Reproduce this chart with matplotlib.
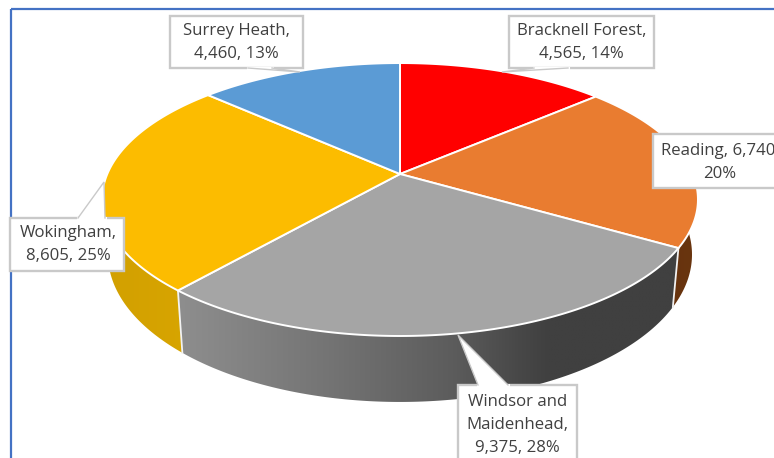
import numpy as np
import matplotlib
matplotlib.use("Agg")
import matplotlib.pyplot as plt
from matplotlib.patches import Polygon, Rectangle
from matplotlib.colors import LinearSegmentedColormap

# --- data -------------------------------------------------------------
names = ["Bracknell Forest", "Reading", "Windsor and Maidenhead", "Wokingham", "Surrey Heath"]
values = [4565, 6740, 9375, 8605, 4460]
percents = [14, 20, 28, 25, 13]
label_lines = [
    ["Bracknell Forest,", "4,565, 14%"],
    ["Reading, 6,740,", "20%"],
    ["Windsor and", "Maidenhead,", "9,375, 28%"],
    ["Wokingham,", "8,605, 25%"],
    ["Surrey Heath,", "4,460, 13%"],
]
top_colors = ["#ff0000", "#e97c30", "#a5a5a5", "#fcbc00", "#5b9bd5"]
side_stops = [
    [(0, "#cc0000"), (1, "#cc0000")],
    [(0, "#5e2e0c"), (1, "#6a350f")],
    [(0, "#8e8e8e"), (0.3, "#747474"), (0.55, "#5c5c5c"), (0.68, "#484848"), (0.74, "#404040"), (1, "#404040")],
    [(0, "#d2a000"), (1, "#d9a600")],
    [(0, "#3f6fa0"), (1, "#3f6fa0")],
]
# label box: left, top, right, bottom, text centre x, first-line centre y
boxes = [
    (509, 16, 654, 68, 581.5, 31),
    (653, 134, 800, 188, 720, 151),
    (458, 385, 577, 480, 517.5, 402),
    (10, 218, 124, 271, 68.5, 233),
    (170, 16, 303, 68, 236.5, 31),
]
# callout: tip, then the two points where it meets the box
callouts = [
    [(502, 72), (534, 68), (568, 68)],
    None,
    [(458, 335), (478, 385), (508, 385)],
    [(104, 182), (78, 218), (105, 218)],
    [(300, 72), (248, 68), (272, 68)],
]

# --- geometry of the tilted disc ---------------------------------------
CX, CY = 400, 174
A, B, K = 292.7, 131.7, 0.187
SX, SY, DROP = 0.98, 1.08, 53


def top_pt(theta):
    u, v = np.sin(theta), np.cos(theta)
    d = 1 + K * v
    return CX + A * u / d, CY - B * v / d


def bottom_pt(theta):
    x, y = top_pt(theta)
    return CX + SX * (x - CX), CY + DROP + SY * (y - CY)


fig = plt.figure(figsize=(7.74, 4.58), dpi=100)
ax = fig.add_axes([0, 0, 1, 1])
ax.axis("off")
plt.rcParams["font.family"] = ["Open Sans", "DejaVu Sans"]

edges = np.concatenate([[0], np.cumsum(values)]) / np.sum(values) * 2 * np.pi

# sides first, then top faces
for i in range(len(values)):
    th = np.linspace(edges[i], edges[i + 1], 200)
    xt, yt = top_pt(th)
    xb, yb = bottom_pt(th)
    pts = np.column_stack([np.r_[xt, xb[::-1]], np.r_[yt, yb[::-1]]])
    poly = Polygon(pts, closed=True, facecolor="none", edgecolor="none")
    ax.add_patch(poly)
    cmap = LinearSegmentedColormap.from_list(f"s{i}", side_stops[i])
    im = ax.imshow(np.linspace(0, 1, 256).reshape(1, -1), cmap=cmap, aspect="auto",
                   extent=(pts[:, 0].min(), pts[:, 0].max(), pts[:, 1].max(), pts[:, 1].min()),
                   zorder=1, interpolation="bilinear")
    im.set_clip_path(poly)
    # white seam down the slice boundary
    bx0, by0 = top_pt(edges[i])
    bx1, by1 = bottom_pt(edges[i])
    ax.plot([bx0, bx1], [by0, by1], color="#f2f2f2", lw=1.3, zorder=2)

for i in range(len(values)):
    th = np.linspace(edges[i], edges[i + 1], 200)
    xt, yt = top_pt(th)
    pts = np.column_stack([np.r_[CX, xt], np.r_[CY, yt]])
    ax.add_patch(Polygon(pts, closed=True, facecolor=top_colors[i], edgecolor="#ffffff",
                         lw=1.4, joinstyle="round", zorder=3))

# frame of the pasted chart
ax.add_patch(Rectangle((11, 9), 900, 700, facecolor="none", edgecolor="#4472c4", lw=1.6, zorder=6))

# labels
for lines, box, call in zip(label_lines, boxes, callouts):
    l, t, r, b, tx, ty = box
    ax.add_patch(Rectangle((l, t), r - l, b - t, facecolor="white", edgecolor="#c9c9c9", lw=1.7, zorder=7))
    if call is not None:
        ax.add_patch(Polygon(call, closed=True, facecolor="white", edgecolor="none", zorder=7.4))
        ax.plot([call[1][0], call[0][0], call[2][0]], [call[1][1], call[0][1], call[2][1]],
                color="#c9c9c9", lw=1.0, zorder=7.5, solid_joinstyle="miter")
        ax.plot([call[1][0], call[2][0]], [call[1][1], call[2][1]], color="white", lw=2.2, zorder=7.45)
    for j, s in enumerate(lines):
        ax.text(tx, ty + j * 23, s, ha="center", va="center", fontsize=12.1, color="#404040", zorder=8)

ax.set_xlim(0, 774)
ax.set_ylim(458, 0)
fig.savefig("out.png", dpi=100, facecolor="white")
